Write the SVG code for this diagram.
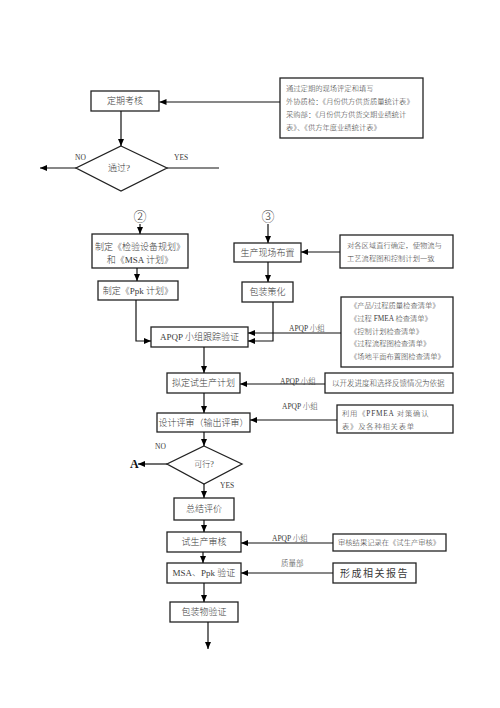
<svg xmlns="http://www.w3.org/2000/svg" width="500" height="708" viewBox="0 0 500 708">
<defs>
<marker id="ah" markerWidth="7" markerHeight="6" refX="7" refY="3" orient="auto" markerUnits="userSpaceOnUse">
<path d="M0,0 L7,3 L0,6 z" fill="#000"/>
</marker>
<style>
.box{fill:#fff;stroke:#222;stroke-width:1.3}
.t{font-family:"Liberation Serif","Noto Sans CJK SC",serif;font-size:9px;font-weight:300;fill:#3a3a3a;text-anchor:middle;dominant-baseline:central}
.s{font-family:"Liberation Serif","Noto Sans CJK SC",serif;font-size:7.3px;font-weight:300;fill:#3a3a3a;dominant-baseline:central}
.lb{font-family:"Liberation Serif","Noto Sans CJK SC",serif;font-size:7.5px;font-weight:300;fill:#3a3a3a;dominant-baseline:central}
.c{fill:none;stroke:#111;stroke-width:1.2}
.a{marker-end:url(#ah)}
</style>
</defs>
<rect width="500" height="708" fill="#fff"/>

<g id="n_dingqi"><rect class="box" x="91" y="91" width="68" height="20"/><text class="t" x="125" y="101">定期考核</text></g>
<g id="n_note1"><rect class="box" x="280" y="78" width="143" height="60"/>
<text class="s" x="286" y="88">通过定期的现场评定和填写</text>
<text class="s" x="286" y="101">外协质检：《月份供方供货质量统计表》</text>
<text class="s" x="286" y="114">采购部：《月份供方供货交期业绩统计</text>
<text class="s" x="286" y="127">表》、《供方年度业绩统计表》</text></g>
<g id="n_pass"><polygon class="box" points="121,146 167,168 121,191 76,168"/><text class="t" x="119" y="168">通过?</text></g>
<g id="n_c2"><text class="t" x="140" y="216" style="font-size:13px">②</text></g>
<g id="n_c3"><text class="t" x="268" y="216" style="font-size:13px">③</text></g>
<g id="n_plan1"><rect class="box" x="92" y="234" width="96" height="34"/><text class="t" x="140" y="246.5">制定《检验设备规划》</text><text class="t" x="140" y="259.5">和《MSA 计划》</text></g>
<g id="n_ppk"><rect class="box" x="98" y="281" width="80" height="19"/><text class="t" x="138" y="290.5">制定《Ppk 计划》</text></g>
<g id="n_site"><rect class="box" x="234" y="243" width="67" height="19"/><text class="t" x="267.5" y="252.5">生产现场布置</text></g>
<g id="n_note2"><rect class="box" x="340" y="235" width="113" height="33"/>
<text class="s" x="347" y="245">对各区域直行确定，使物流与</text>
<text class="s" x="347" y="258">工艺流程图和控制计划一致</text></g>
<g id="n_pack"><rect class="box" x="242" y="282" width="51" height="20"/><text class="t" x="267.5" y="292">包装策化</text></g>
<g id="n_apqp"><rect class="box" x="151" y="327" width="97" height="20"/><text class="t" x="199.5" y="337">APQP 小组跟踪验证</text></g>
<g id="n_note3"><rect class="box" x="341" y="297" width="112" height="70"/>
<text class="s" x="350" y="305">《产品/过程质量检查清单》</text>
<text class="s" x="350" y="318">《过程 FMEA 检查清单》</text>
<text class="s" x="350" y="331">《控制计划检查清单》</text>
<text class="s" x="350" y="343.5">《过程流程图检查清单》</text>
<text class="s" x="350" y="356.5">《场地平面布置图检查清单》</text></g>
<g id="n_trial"><rect class="box" x="167" y="373" width="73" height="20"/><text class="t" x="203.5" y="383">拟定试生产计划</text></g>
<g id="n_note4"><rect class="box" x="325" y="373" width="128" height="20"/><text class="s" x="332" y="383" style="font-size:7.5px">以开发进度和选择反馈情况为依据</text></g>
<g id="n_review"><rect class="box" x="157" y="413" width="93" height="19"/><text class="t" x="203.5" y="422.5">设计评审（输出评审）</text></g>
<g id="n_note5"><rect class="box" x="337" y="405" width="116" height="28"/>
<text class="s" x="342" y="413.5" style="letter-spacing:0.8px">利用《PFMEA 对策确认</text>
<text class="s" x="342" y="426.5" style="letter-spacing:0.8px">表》及各种相关表单</text></g>
<g id="n_ok"><polygon class="box" points="204,446 242,464 204,484 167,464"/><text class="t" x="204" y="464" style="font-size:8px">可行?</text></g>
<g id="n_A"><text x="130" y="464" style="font-family:'Liberation Serif',serif;font-size:12px;font-weight:bold;fill:#111;dominant-baseline:central">A</text></g>
<g id="n_sum"><rect class="box" x="174" y="498" width="60" height="22"/><text class="t" x="204" y="509">总结评价</text></g>
<g id="n_audit"><rect class="box" x="167" y="532" width="74" height="20"/><text class="t" x="204" y="542">试生产审核</text></g>
<g id="n_note6"><rect class="box" x="333" y="534" width="113" height="17"/><text class="s" x="338" y="542.5">审核结果记录在《试生产审核》</text></g>
<g id="n_msa"><rect class="box" x="167" y="563" width="74" height="20"/><text class="t" x="204" y="573">MSA、Ppk 验证</text></g>
<g id="n_note7"><rect class="box" x="333" y="563" width="83" height="20"/><text class="t" x="374.5" y="573" style="font-size:10px;font-weight:400;letter-spacing:1.5px">形成相关报告</text></g>
<g id="n_pkg"><rect class="box" x="170" y="602" width="68" height="20"/><text class="t" x="204" y="612">包装物验证</text></g>

<g id="connectors">
<line class="c a" x1="280" y1="102" x2="159.5" y2="102"/>
<line class="c a" x1="121" y1="111" x2="121" y2="146"/>
<line class="c a" x1="76" y1="168" x2="40" y2="168"/>
<line class="c" x1="167" y1="168" x2="219" y2="168"/>
<line class="c a" x1="140" y1="224" x2="140" y2="234"/>
<line class="c a" x1="137" y1="268" x2="137" y2="281"/>
<polyline class="c a" points="136,300 136,341 151,341"/>
<line class="c a" x1="268" y1="224" x2="268" y2="243"/>
<line class="c a" x1="340" y1="252" x2="301" y2="252"/>
<line class="c a" x1="268" y1="262" x2="268" y2="282"/>
<polyline class="c a" points="273,302 273,341 248,341"/>
<line class="c a" x1="341" y1="333" x2="248" y2="333"/>
<line class="c a" x1="204" y1="347" x2="204" y2="373"/>
<line class="c a" x1="325" y1="384" x2="240" y2="384"/>
<line class="c a" x1="204" y1="393" x2="204" y2="413"/>
<line class="c a" x1="337" y1="420" x2="250" y2="420"/>
<line class="c a" x1="204" y1="432" x2="204" y2="446"/>
<line class="c a" x1="167" y1="464" x2="138" y2="464"/>
<line class="c a" x1="204" y1="484" x2="204" y2="498"/>
<line class="c a" x1="204" y1="520" x2="204" y2="532"/>
<line class="c a" x1="333" y1="543" x2="241" y2="543"/>
<line class="c a" x1="203" y1="552" x2="203" y2="563"/>
<line class="c a" x1="333" y1="573" x2="241" y2="573"/>
<line class="c a" x1="204" y1="583" x2="204" y2="602"/>
<line class="c a" x1="208" y1="622" x2="208" y2="649"/>
</g>

<g id="labels">
<text class="lb" x="75" y="157">NO</text>
<text class="lb" x="174" y="157">YES</text>
<text class="lb" x="289" y="328">APQP 小组</text>
<text class="lb" x="280" y="381">APQP 小组</text>
<text class="lb" x="282" y="406">APQP 小组</text>
<text class="lb" x="155" y="446">NO</text>
<text class="lb" x="220" y="485">YES</text>
<text class="lb" x="272" y="538">APQP 小组</text>
<text class="lb" x="281" y="563">质量部</text>
</g>
</svg>
